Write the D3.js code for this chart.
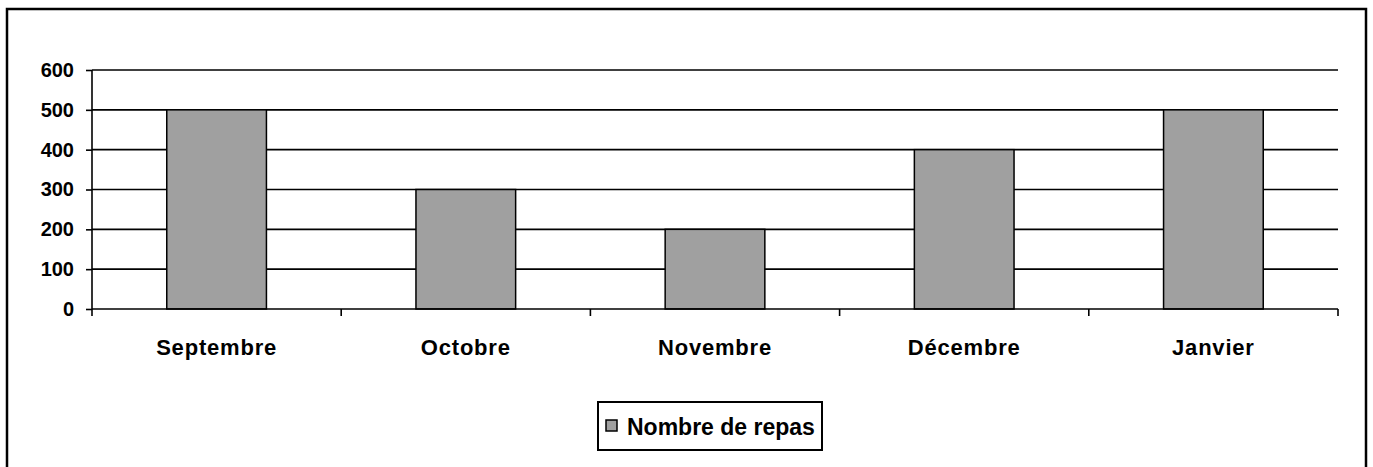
<!DOCTYPE html>
<html>
<head>
<meta charset="utf-8">
<script src="https://cdn.jsdelivr.net/npm/d3@7"></script>
<style>
  body { margin: 0; background: #fff; }
  text { font-family: Arial, "Liberation Sans", sans-serif; font-weight: bold; fill: #000; }
</style>
</head>
<body>
<svg width="1373" height="467"></svg>
<script>
const months = ['Septembre', 'Octobre', 'Novembre', 'Décembre', 'Janvier'];
const repas = [500, 300, 200, 400, 500];
const yTicks = [0, 100, 200, 300, 400, 500, 600];
const seriesName = 'Nombre de repas';

function plotChart() {
  const svg = d3.select('svg');
  const left = 92;
  const right = 1338;
  const top = 70;
  const bottom = 309;

  // outer frame
  svg.append('rect')
      .attr('x', 7)
      .attr('y', 9)
      .attr('width', 1359)
      .attr('height', 480)
      .attr('fill', 'none')
      .attr('stroke', '#000')
      .attr('stroke-width', 2.5);

  const xScale = d3.scaleBand()
      .domain(months)
      .range([left, right])
      .paddingInner(0.6)
      .paddingOuter(0.3);
  const step = xScale.step();
  const yScale = d3.scaleLinear()
      .domain([0, 600])
      .range([bottom, top]);

  // gridlines
  svg.append('g')
      .selectAll('line')
      .data(yTicks.filter(d => d > 0))
      .join('line')
      .attr('x1', left)
      .attr('x2', right)
      .attr('y1', d => yScale(d))
      .attr('y2', d => yScale(d))
      .attr('stroke', '#000')
      .attr('stroke-width', 1.6);

  // bars
  svg.append('g')
      .selectAll('rect')
      .data(months)
      .join('rect')
      .attr('x', d => xScale(d))
      .attr('y', (d, i) => yScale(repas[i]))
      .attr('width', xScale.bandwidth())
      .attr('height', (d, i) => yScale(0) - yScale(repas[i]))
      .attr('fill', '#a0a0a0')
      .attr('stroke', '#000')
      .attr('stroke-width', 1.5);

  const yAxis = d3.axisLeft(yScale)
      .tickValues(yTicks)
      .tickSize(6)
      .tickPadding(12);
  const yAxisG = svg.append('g')
      .attr('transform', `translate(${left},0)`)
      .call(yAxis);
  yAxisG.select('.domain').remove();
  yAxisG.selectAll('line').attr('stroke', '#000').attr('stroke-width', 1.6);
  yAxisG.selectAll('text')
      .style('font-size', '20px')
      .style('font-family', 'Arial, "Liberation Sans", sans-serif')
      .style('font-weight', 'bold')
      .attr('fill', '#000');
  svg.append('line')
      .attr('x1', left).attr('x2', left)
      .attr('y1', top).attr('y2', bottom + 7)
      .attr('stroke', '#000').attr('stroke-width', 1.6);

  // x axis with ticks at category boundaries
  svg.append('line')
      .attr('x1', left).attr('x2', right)
      .attr('y1', bottom).attr('y2', bottom)
      .attr('stroke', '#000').attr('stroke-width', 1.6);
  svg.append('g')
      .selectAll('line')
      .data(months.slice(1).concat(['end']))
      .join('line')
      .attr('x1', (d, i) => left + step * (i + 1))
      .attr('x2', (d, i) => left + step * (i + 1))
      .attr('y1', bottom)
      .attr('y2', bottom + 7)
      .attr('stroke', '#000').attr('stroke-width', 1.6);
  svg.append('g')
      .selectAll('text')
      .data(months)
      .join('text')
      .attr('x', d => xScale(d) + xScale.bandwidth() / 2)
      .attr('y', 355)
      .attr('text-anchor', 'middle')
      .style('font-size', '22px')
      .style('letter-spacing', '0.8px')
      .text(d => d);

  // legend
  const legend = svg.append('g');
  legend.append('rect')
      .attr('x', 598).attr('y', 402)
      .attr('width', 224).attr('height', 48)
      .attr('fill', '#fff')
      .attr('stroke', '#000')
      .attr('stroke-width', 2);
  legend.append('rect')
      .attr('x', 606).attr('y', 420)
      .attr('width', 11).attr('height', 11)
      .attr('fill', '#a0a0a0')
      .attr('stroke', '#000')
      .attr('stroke-width', 1.5);
  legend.append('text')
      .attr('x', 627).attr('y', 435)
      .style('font-size', '23px')
      .text(seriesName);
}

plotChart();
</script>
</body>
</html>
